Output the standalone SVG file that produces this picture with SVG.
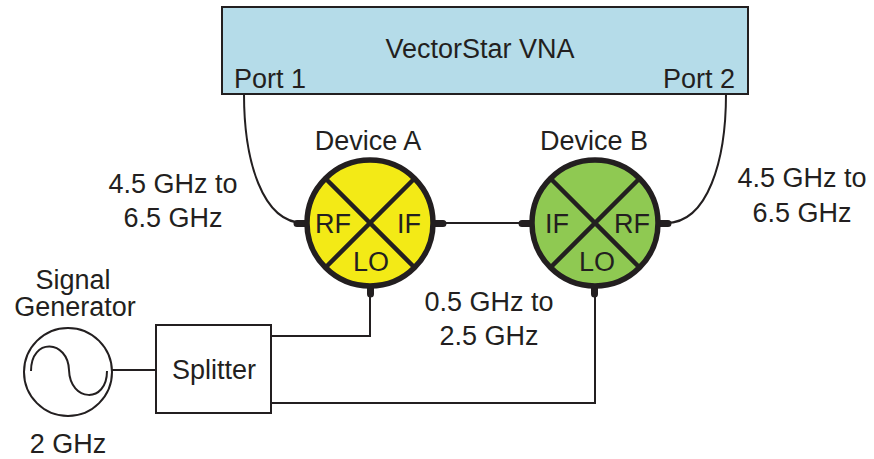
<svg xmlns="http://www.w3.org/2000/svg" width="874" height="459" viewBox="0 0 874 459">
<style>
text{font-family:"Liberation Sans",Arial,sans-serif;font-size:27px;fill:#231f20;text-anchor:middle}
.w{fill:none;stroke:#231f20;stroke-width:2}
.t{fill:none;stroke:#231f20;stroke-width:4.5}
.b{fill:#231f20}
</style>
<rect width="874" height="459" fill="#fff"/>
<g id="connectors">
<path class="w" d="M244 94C244 160 262 223 304 223"/>
<path class="w" d="M726 94C726 160 708 223 666 223"/>
<path class="w" d="M438 223H526"/>
<path class="w" d="M370 293V336H272"/>
<path class="w" d="M595 293V403H272"/>
<path class="w" d="M112 370H156"/>
<path class="b" d="M297 220h8v7h-8a3 3 0 0 1-0-7zM435 220h8a3 3 0 0 1 0 7h-8zM522 220h8v7h-8a3 3 0 0 1 0-7zM660 220h8a3 3 0 0 1 0 7h-8zM367 288h7v6a3 3 0 0 1-7 0zM591 288h7v6a3 3 0 0 1-7 0z"/>
</g>
<g id="vna">
<rect x="222" y="7" width="526" height="87" fill="#b5dce9" stroke="#231f20" stroke-width="2"/>
<text x="480" y="58">VectorStar VNA</text>
<text x="270" y="88">Port 1</text>
<text x="699" y="88">Port 2</text>
</g>
<g id="device-a">
<circle class="t" cx="370" cy="223" r="63" fill="#f3ea16" style="fill:#f3ea16;stroke-width:5.5"/>
<path class="t" d="M326 179L414 267M414 179L326 267"/>
<text x="368" y="150">Device A</text>
<text x="333" y="233">RF</text>
<text x="409" y="233">IF</text>
<text x="371" y="271">LO</text>
</g>
<g id="device-b">
<circle class="t" cx="595" cy="223" r="63" style="fill:#8fc952;stroke-width:5.5"/>
<path class="t" d="M551 179L639 267M639 179L551 267"/>
<text x="594" y="150">Device B</text>
<text x="557" y="233">IF</text>
<text x="632" y="233">RF</text>
<text x="597" y="271">LO</text>
</g>
<g id="signal-generator">
<circle class="w" cx="68" cy="372" r="44"/>
<path class="w" d="M31 371C31 337 68 340 69 370C70 402 107 404 107 371"/>
<text x="73" y="289">Signal</text>
<text x="75" y="316">Generator</text>
<text x="68" y="453">2 GHz</text>
</g>
<g id="splitter">
<rect class="w" x="156" y="325" width="115" height="88"/>
<text x="214" y="379">Splitter</text>
</g>
<g id="labels">
<text x="173" y="193">4.5 GHz to</text>
<text x="173" y="227">6.5 GHz</text>
<text x="802" y="187">4.5 GHz to</text>
<text x="802" y="222">6.5 GHz</text>
<text x="489" y="311">0.5 GHz to</text>
<text x="489" y="345">2.5 GHz</text>
</g>
</svg>
